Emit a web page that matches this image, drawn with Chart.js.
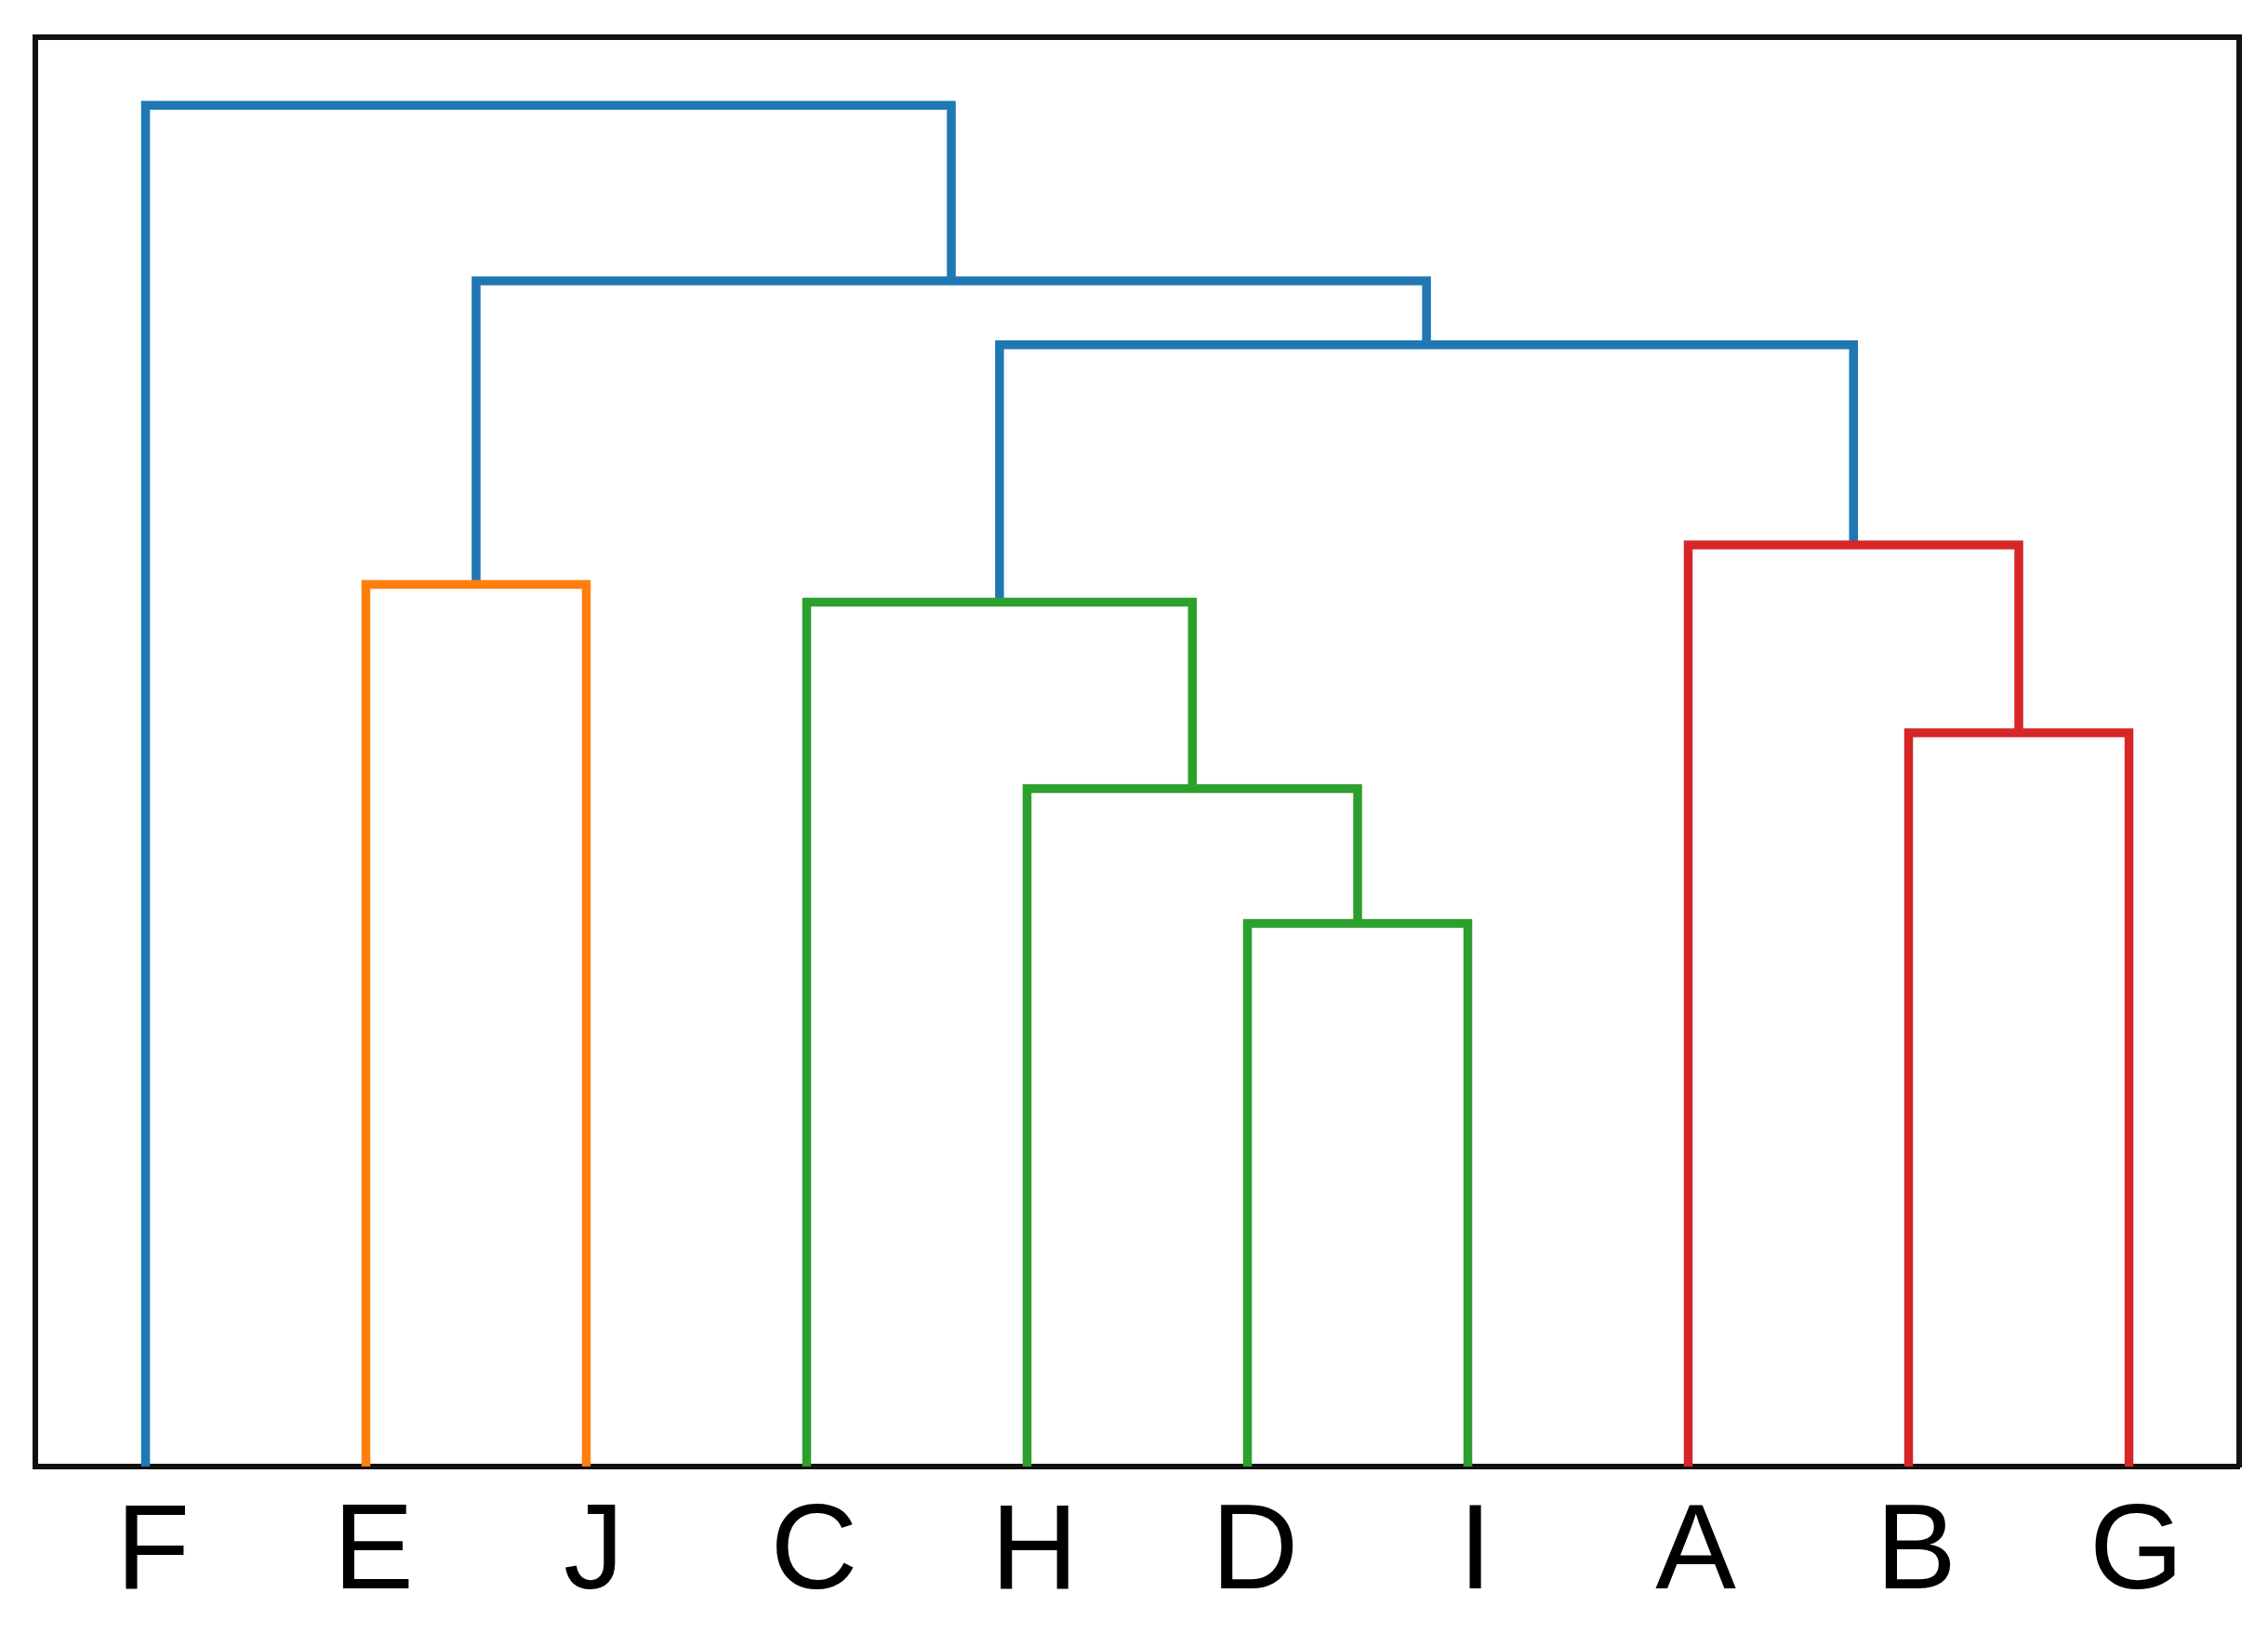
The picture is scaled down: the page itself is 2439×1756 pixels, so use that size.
<!DOCTYPE html>
<html>
<head>
<meta charset="utf-8">
<title>Dendrogram</title>
<script src="https://cdn.jsdelivr.net/npm/chart.js@4.4.1/dist/chart.umd.min.js"></script>
<style>
    html, body { margin: 0; padding: 0; background: #fff; overflow: hidden; }
    #wrap { width: 2439px; height: 1767px; position: relative; }
</style>
</head>
<body>
<div id="wrap"><canvas id="dendro"></canvas></div>
<script>
// leaf order along the x axis (leaf i sits at x = 5 + 10*i, scipy style)
const leafLabels = ['F', 'E', 'J', 'C', 'H', 'D', 'I', 'A', 'B', 'G'];
const leafPositions = [5, 15, 25, 35, 45, 55, 65, 75, 85, 95];

// each link is a U: x of the 4 corners and the heights at those corners
const linkX = [
    [55, 55, 65, 65],            // D - I
    [45, 45, 60, 60],            // H - (D,I)
    [35, 35, 52.5, 52.5],        // C - (H,D,I)
    [15, 15, 25, 25],            // E - J
    [85, 85, 95, 95],            // B - G
    [75, 75, 90, 90],            // A - (B,G)
    [43.75, 43.75, 82.5, 82.5],  // green cluster - red cluster
    [20, 20, 63.125, 63.125],    // orange cluster - rest
    [5, 5, 41.5625, 41.5625]     // F - rest
];
const linkHeights = [
    [0, 3.99, 3.99, 0],
    [0, 4.98, 4.98, 3.99],
    [0, 6.35, 6.35, 4.98],
    [0, 6.48, 6.48, 0],
    [0, 5.39, 5.39, 0],
    [0, 6.77, 6.77, 5.39],
    [6.35, 8.24, 8.24, 6.77],
    [6.48, 8.71, 8.71, 8.24],
    [0, 10.0, 10.0, 8.71]
];
const linkCluster = ['green', 'green', 'green', 'orange', 'red', 'red', 'above', 'above', 'above'];

const clusterColors = {
    green: '#2ca02c',
    orange: '#ff7f0e',
    red: '#d62728',
    above: '#1f77b4'
};

const topHeight = Math.max(...linkHeights.flat());

const datasets = linkX.map((xs, i) => ({
    data: xs.map((x, k) => ({ x: x, y: linkHeights[i][k] })),
    borderColor: clusterColors[linkCluster[i]],
    borderWidth: 9.5,
    showLine: true,
    fill: false,
    tension: 0,
    pointRadius: 0,
    pointHoverRadius: 0,
    borderJoinStyle: 'miter',
    borderCapStyle: 'butt'
}));

const frameSide = {
    display: true,
    grid: { display: false, drawTicks: false },
    ticks: { display: false },
    border: { display: true, color: '#111', width: 6 }
};

new Chart(document.getElementById('dendro'), {
    type: 'scatter',
    data: { datasets: datasets },
    options: {
        responsive: true,
        maintainAspectRatio: false,
        animation: false,
        layout: { padding: { left: 38, top: 40, right: 31, bottom: 0 } },
        plugins: {
            legend: { display: false },
            tooltip: { enabled: false }
        },
        scales: {
            x: {
                type: 'linear',
                position: 'bottom',
                min: 0,
                max: leafLabels.length * 10,
                afterBuildTicks: (scale) => {
                    scale.ticks = leafPositions.map(v => ({ value: v }));
                },
                ticks: {
                    autoSkip: false,
                    maxRotation: 0,
                    padding: 17,
                    labelOffset: 8,
                    color: '#000',
                    font: { family: "'Liberation Sans', Arial, sans-serif", size: 130 },
                    callback: (value) => leafLabels[leafPositions.indexOf(value)]
                },
                grid: { display: false, drawTicks: false },
                border: { display: true, color: '#111', width: 6 }
            },
            y: {
                type: 'linear',
                position: 'left',
                min: 0,
                max: topHeight * 1.05,
                ...frameSide
            },
            xTop: { type: 'linear', position: 'top', ...frameSide },
            yRight: { type: 'linear', position: 'right', ...frameSide }
        }
    }
});
</script>
</body>
</html>
